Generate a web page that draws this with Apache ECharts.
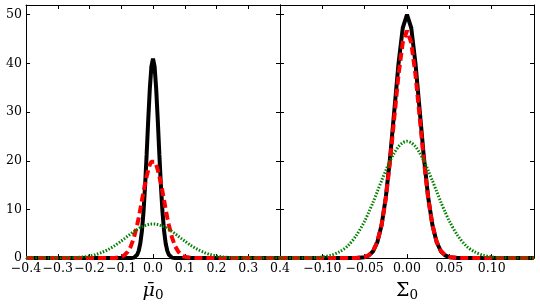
<!DOCTYPE html>
<html>
<head>
<meta charset="utf-8">
<script src="https://cdn.jsdelivr.net/npm/echarts@6/dist/echarts.min.js"></script>
<style>html,body{margin:0;padding:0;background:#fff}#c{width:540px;height:307px}</style>
</head>
<body>
<div id="c"></div>
<script>
// Left panel (mu_0) sample positions and curve values
var leftX = [-0.4,-0.35,-0.3,-0.28,-0.26,-0.24,-0.22,-0.2,-0.18,-0.16,-0.14,-0.12,-0.1,-0.09,-0.08,-0.07,-0.06,-0.05,-0.045,-0.04,-0.035,-0.03,-0.025,-0.02,-0.015,-0.01,-0.005,
  0,
  0.005,0.01,0.015,0.02,0.025,0.03,0.035,0.04,0.045,0.05,0.06,0.07,0.08,0.09,0.1,0.12,0.14,0.16,0.18,0.2,0.22,0.24,0.26,0.28,0.3,0.35,0.4];
var leftBlack = [0,0,0,0,0,0,0,0,0,0,0,0,0,0,0,0,0.1,0.7,1.5,3.0,5.5,9.4,14.8,21.3,28.4,34.8,39.4,
  41,
  39.4,34.8,28.4,21.3,14.8,9.4,5.5,3.0,1.5,0.7,0.1,0,0,0,0,0,0,0,0,0,0,0,0,0,0,0,0];
var leftRed = [0,0,0,0,0,0,0,0,0,0,0,0.04,0.26,0.6,1.3,2.4,4.2,6.8,8.3,10.0,11.8,13.6,15.3,16.8,18.1,19.2,19.8,
  20,
  19.8,19.2,18.1,16.8,15.3,13.6,11.8,10.0,8.3,6.8,4.2,2.4,1.3,0.6,0.26,0.04,0,0,0,0,0,0,0,0,0,0,0];
var leftGreen = [0,0,0.01,0.03,0.07,0.13,0.25,0.44,0.74,1.19,1.80,2.58,3.50,3.99,4.50,4.99,5.46,5.89,6.08,6.27,6.43,6.58,6.70,6.81,6.89,6.95,6.99,
  7.0,
  6.99,6.95,6.89,6.81,6.70,6.58,6.43,6.27,6.08,5.89,5.46,4.99,4.50,3.99,3.50,2.58,1.80,1.19,0.74,0.44,0.25,0.13,0.07,0.03,0.01,0,0];

// Right panel (Sigma_0)
var rightX = [-0.15,-0.13,-0.12,-0.11,-0.1,-0.09,-0.08,-0.07,-0.06,-0.05,-0.045,-0.04,-0.035,-0.03,-0.025,-0.02,-0.015,-0.01,-0.005,
  0,
  0.005,0.01,0.015,0.02,0.025,0.03,0.035,0.04,0.045,0.05,0.06,0.07,0.08,0.09,0.1,0.11,0.12,0.13,0.15];
var rightBlack = [0,0,0,0,0,0,0,0,0.02,0.19,0.56,1.4,3.3,6.8,12.5,20.6,30.3,40.0,47.3,
  50,
  47.3,40.0,30.3,20.6,12.5,6.8,3.3,1.4,0.56,0.19,0.02,0,0,0,0,0,0,0,0];
var rightRed = [0,0,0,0,0,0,0,0,0.02,0.22,0.62,1.5,3.4,6.8,12.3,19.9,28.9,37.7,44.3,
  46.7,
  44.3,37.7,28.9,19.9,12.3,6.8,3.4,1.5,0.62,0.22,0.02,0,0,0,0,0,0,0,0];
var rightGreen = [0,0.01,0.03,0.09,0.24,0.58,1.27,2.5,4.6,7.6,9.5,11.5,13.7,15.9,18.0,20.0,21.6,22.9,23.7,
  24,
  23.7,22.9,21.6,20.0,18.0,15.9,13.7,11.5,9.5,7.6,4.6,2.5,1.27,0.58,0.24,0.09,0.03,0.01,0];

var yTicks = [0,10,20,30,40,50];
var leftTicks = [-0.4,-0.3,-0.2,-0.1,0,0.1,0.2,0.3,0.4];
var rightTicks = [-0.10,-0.05,0.00,0.05,0.10];

var FONT = 'DejaVu Serif';
function pairs(xs, ys){ return xs.map(function(x,i){ return [x, ys[i]]; }); }
function fmt(v, d){
  if (Math.abs(v) < 1e-9) return (0).toFixed(d);
  return (v < 0 ? '\u2212' : '') + Math.abs(v).toFixed(d);
}
function axisLineStyle(){ return {show:true, onZero:false, lineStyle:{color:'#000', width:1}}; }
function tickStyle(){ return {show:true, inside:true, length:4, lineStyle:{color:'#000', width:1}}; }

function xAx(grid, min, max, interval, pos, showLabel, labelFilter, name){
  return {
    type:'value', gridIndex:grid, min:min, max:max, interval:interval, position:pos,
    axisLine: axisLineStyle(), axisTick: tickStyle(), splitLine:{show:false},
    axisLabel:{show:showLabel, margin:4, color:'#000', fontFamily:FONT, fontSize:12.5,
      formatter:function(v){ return labelFilter(v); }},
    name: name || '', nameLocation:'middle', nameGap:15,
    nameTextStyle:{color:'#000', fontFamily:FONT,
      rich:{
        m:{fontSize:19, fontStyle:'italic', fontFamily:FONT, color:'#000', lineHeight:22},
        s:{fontSize:19, fontFamily:FONT, color:'#000', lineHeight:22},
        z:{fontSize:13.5, fontFamily:FONT, color:'#000', lineHeight:13, verticalAlign:'bottom', padding:[8,0,0,0]}
      }}
  };
}
function yAx(grid, pos, showLabel){
  return {
    type:'value', gridIndex:grid, min:0, max:52, interval:10, position:pos,
    axisLine: axisLineStyle(), axisTick: tickStyle(), splitLine:{show:false},
    axisLabel:{show:showLabel, margin:4, color:'#000', fontFamily:FONT, fontSize:12.5,
      formatter:function(v){ return yTicks.indexOf(v) >= 0 ? String(v) : ''; }}
  };
}
function leftLab(v){ for (var i=0;i<leftTicks.length;i++){ if (Math.abs(v-leftTicks[i])<1e-6) return fmt(leftTicks[i],1); } return ''; }
function rightLab(v){ for (var i=0;i<rightTicks.length;i++){ if (Math.abs(v-rightTicks[i])<1e-6) return fmt(rightTicks[i],2); } return ''; }

var chart = echarts.init(document.getElementById('c'), null, {renderer:'canvas'});
var BLACK = {color:'#000', width:4, type:'solid'};
var RED = {color:'#ff0000', width:4, type:[8,4]};
var GREEN = {color:'#008000', width:3, type:[1.5,1.6]};
function ser(xi, yi, data, ls, z, sm){
  return {type:'line', xAxisIndex:xi, yAxisIndex:yi, data:data, showSymbol:false, symbol:'none',
    smooth:sm, lineStyle:ls, z:z, silent:true, animation:false};
}
chart.setOption({
  animation:false,
  backgroundColor:'#fff',
  grid:[
    {left:26, top:5, width:254, height:254},
    {left:280, top:5, width:254, height:254}
  ],
  xAxis:[
    xAx(0, -0.4, 0.4, 0.1, 'bottom', true, leftLab, '{m|\u03bc\u0304}{z|0}'),
    xAx(0, -0.4, 0.4, 0.1, 'top', false, leftLab),
    xAx(1, -0.15, 0.15, 0.05, 'bottom', true, rightLab, '{s|\u03a3}{z|0}'),
    xAx(1, -0.15, 0.15, 0.05, 'top', false, rightLab)
  ],
  yAxis:[
    yAx(0, 'left', true),
    yAx(0, 'right', false),
    yAx(1, 'left', false),
    yAx(1, 'right', false)
  ],
  series:[
    ser(0, 0, pairs(leftX, leftBlack), BLACK, 2, false),
    ser(0, 0, pairs(leftX, leftRed), RED, 3, false),
    ser(0, 0, pairs(leftX, leftGreen), GREEN, 4, 0.3),
    ser(2, 2, pairs(rightX, rightBlack), BLACK, 2, false),
    ser(2, 2, pairs(rightX, rightRed), RED, 3, false),
    ser(2, 2, pairs(rightX, rightGreen), GREEN, 4, 0.3)
  ]
});
</script>
</body>
</html>
